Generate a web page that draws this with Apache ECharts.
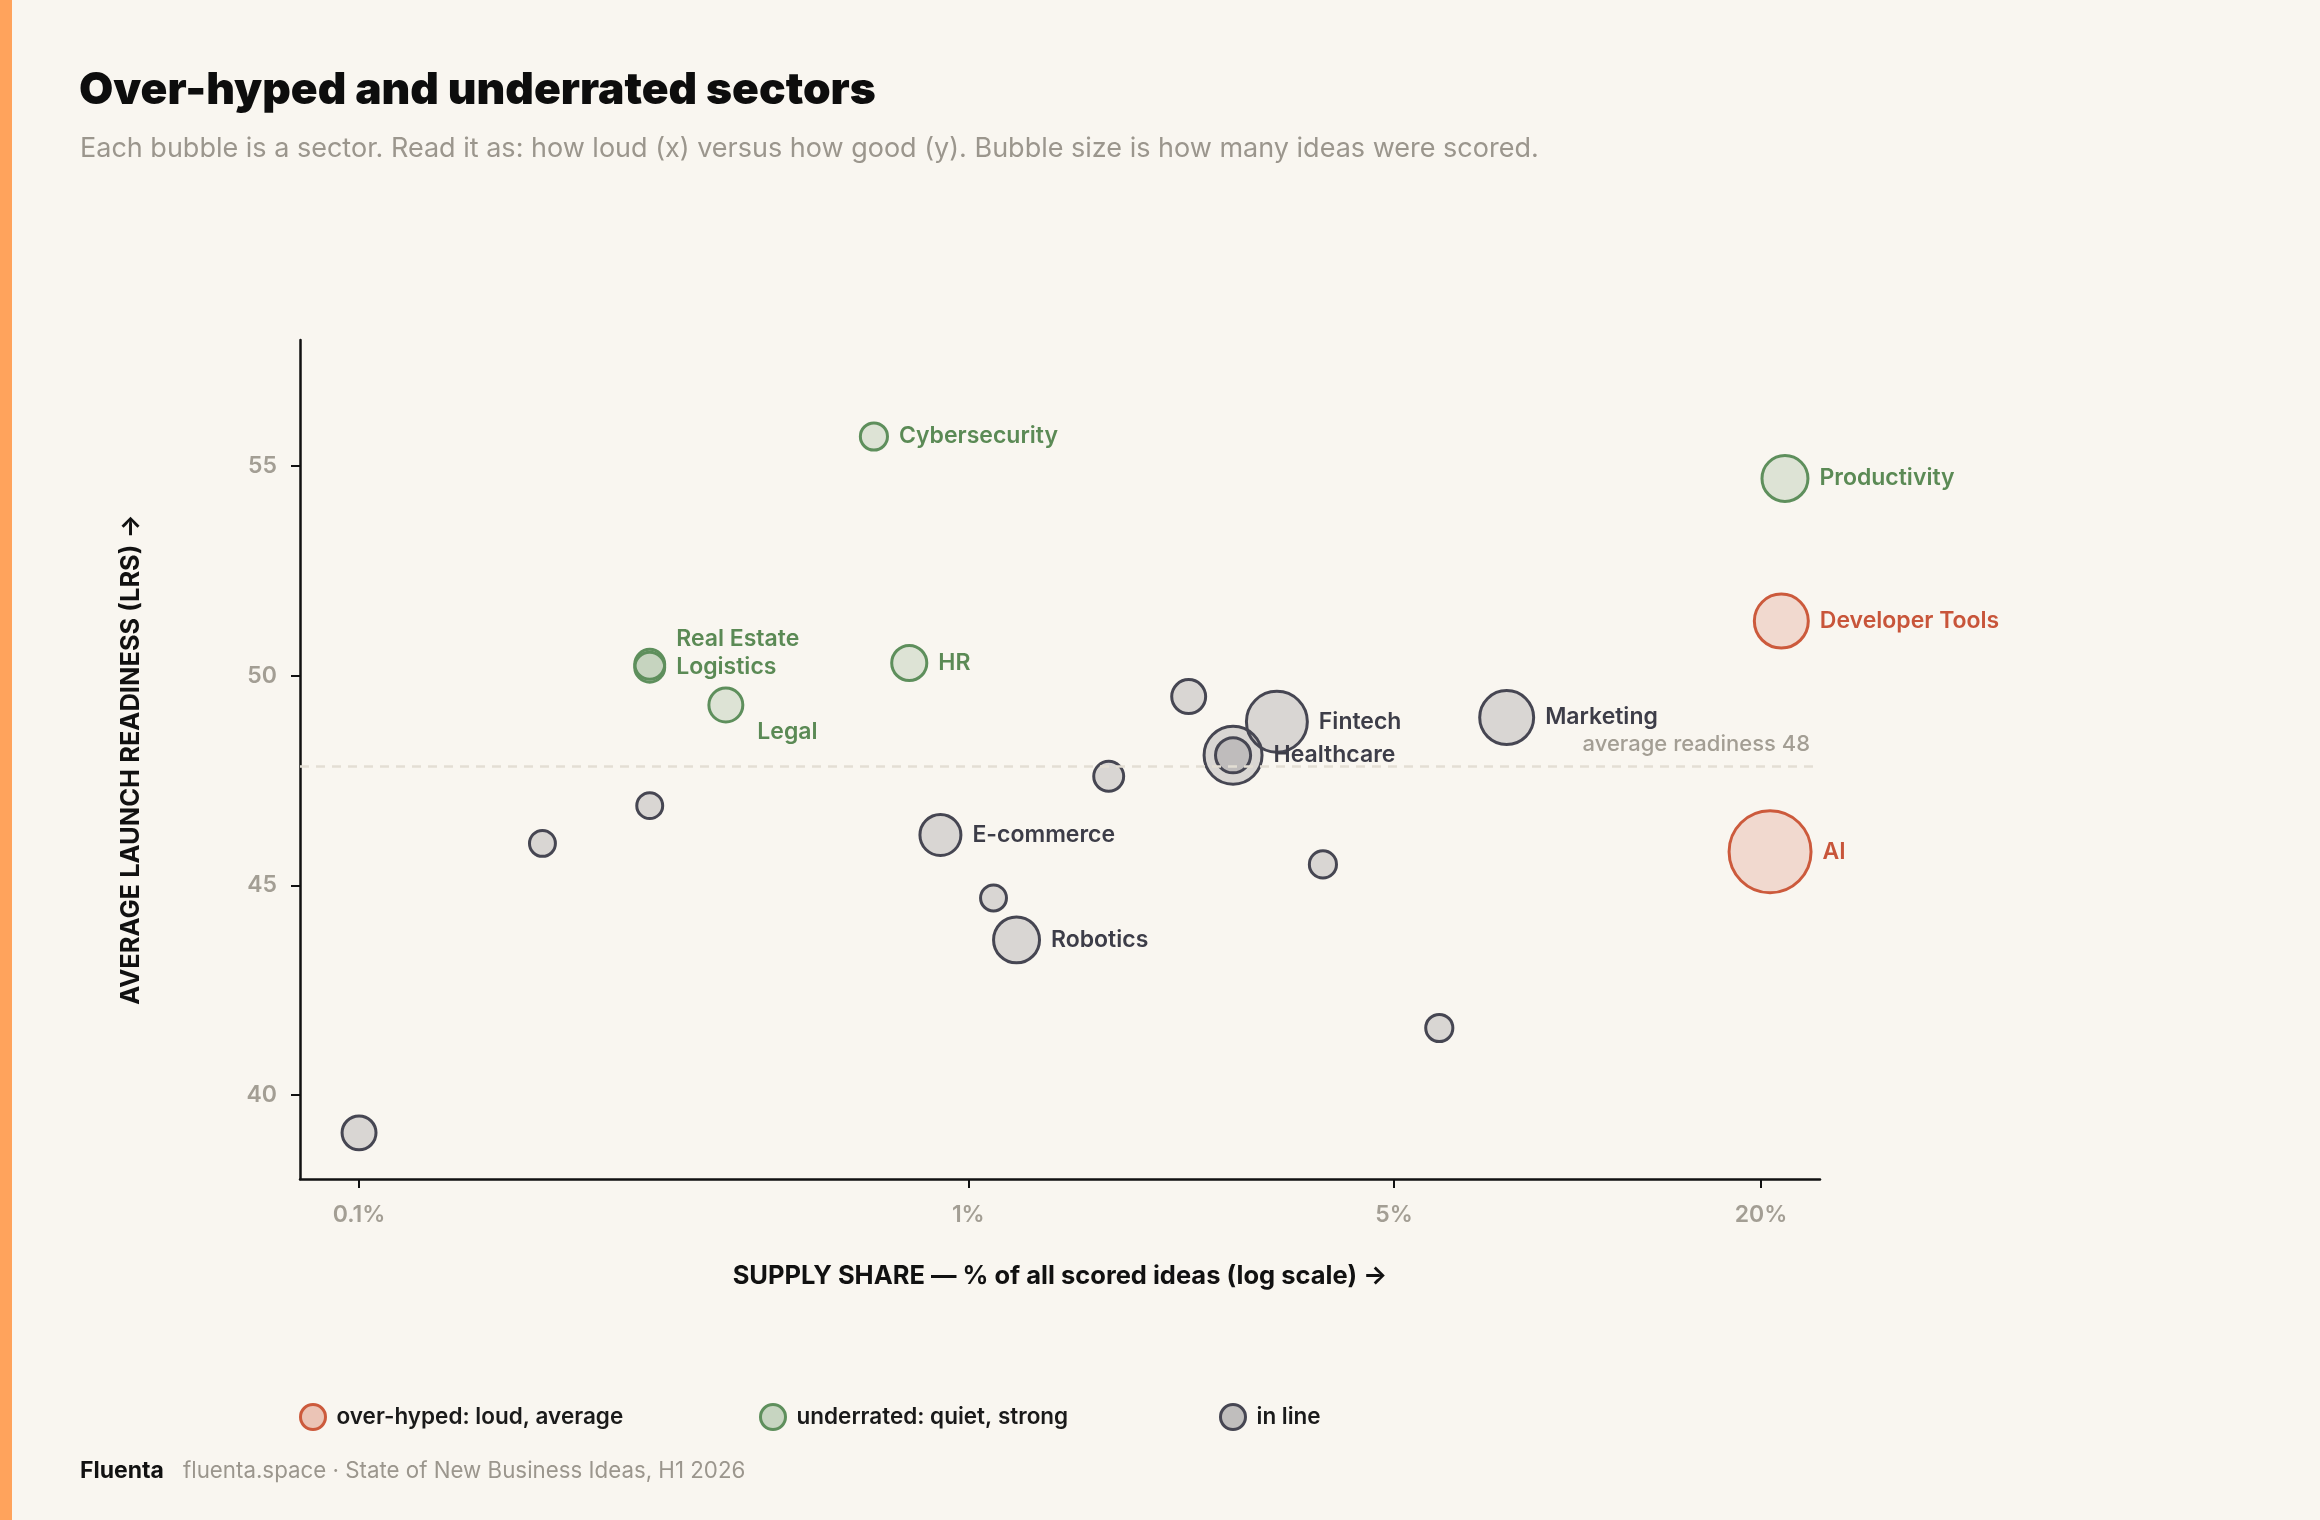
<!DOCTYPE html>
<html>
<head>
<meta charset="utf-8">
<title>Over-hyped and underrated sectors</title>
<script src="https://cdn.jsdelivr.net/npm/echarts@6/dist/echarts.min.js"></script>
<style>
  html, body { margin: 0; padding: 0; background: #f9f6f0; }
  #chart { width: 2320px; height: 1520px; }
</style>
</head>
<body>
<div id="chart"></div>
<script>
// sectors (empty name = bubble drawn without a label)
const sectorNames = ['AI', 'Developer Tools', 'Productivity', 'Marketing', 'Fintech', 'Healthcare',
  'E-commerce', 'Robotics', 'Cybersecurity', 'HR', 'Real Estate', 'Logistics', 'Legal',
  '', '', '', '', '', '', '', '', ''];
const supplyShare = [20.7, 21.6, 21.9, 7.65, 3.21, 2.72,
  0.90, 1.20, 0.70, 0.80, 0.30, 0.30, 0.40,
  2.30, 1.70, 3.82, 5.93, 1.10, 0.20, 0.30, 0.10, 2.72];   // % of all scored ideas
const readiness = [45.8, 51.3, 54.7, 49.0, 48.9, 48.1,
  46.2, 43.7, 55.7, 50.3, 50.27, 50.2, 49.3,
  49.5, 47.6, 45.5, 41.6, 44.7, 46.0, 46.9, 39.1, 48.1];    // average LRS
const ideasScored = [420, 182, 132, 182, 232, 210,
  105, 132, 46, 77, 56, 56, 72,
  72, 56, 46, 46, 42, 42, 42, 72, 77];
const verdict = ['over', 'over', 'under', 'line', 'line', 'line',
  'line', 'line', 'under', 'under', 'under', 'under', 'under',
  'line', 'line', 'line', 'line', 'line', 'line', 'line', 'line', 'line'];

const xTickValues = [0.1, 1, 5, 20];
const yTickValues = [40, 45, 50, 55];
const avgReadiness = 47.85;

const FONT = 'Inter, "Noto Sans", sans-serif';

const groups = [
  { key: 'over', name: 'over-hyped: loud, average', stroke: '#cc5a3c', rgb: '204,90,60', text: '#c8553a' },
  { key: 'under', name: 'underrated: quiet, strong', stroke: '#5e8f5c', rgb: '94,143,92', text: '#5b8a55' },
  { key: 'line', name: 'in line', stroke: '#464652', rgb: '70,70,82', text: '#3d3d48' }
];

// a couple of labels are nudged off the default "right of the bubble" spot
const labelTweaks = {
  'Real Estate': { offset: [0, -25] },
  'Legal': { offset: [3, 27] }
};

const chart = echarts.init(document.getElementById('chart'));

const series = groups.map(g => {
  const data = [];
  sectorNames.forEach((name, i) => {
    if (verdict[i] !== g.key) return;
    const item = { name, value: [Math.log10(supplyShare[i]), readiness[i], ideasScored[i]] };
    if (labelTweaks[name]) item.label = labelTweaks[name];
    data.push(item);
  });
  const s = {
    name: g.name,
    type: 'scatter',
    data,
    symbol: 'circle',
    symbolSize: v => Math.sqrt(v[2]) * 4,
    itemStyle: {
      color: `rgba(${g.rgb},0.18)`,
      borderColor: g.stroke,
      borderWidth: 3,
      opacity: 1
    },
    label: {
      show: true,
      position: 'right',
      distance: 10,
      formatter: p => p.name,
      color: g.text,
      fontSize: 23,
      fontWeight: 600,
      fontFamily: FONT
    },
    emphasis: { disabled: true }
  };
  if (g.key === 'line') {
    s.markLine = {
      silent: true,
      symbol: ['none', 'none'],
      lineStyle: { type: [9, 7], color: '#e3ded4', width: 2.5 },
      label: {
        show: true,
        position: 'insideEndTop',
        distance: 10,
        formatter: 'average readiness ' + Math.round(avgReadiness),
        color: '#a39e94',
        fontSize: 22,
        fontWeight: 500,
        fontFamily: FONT
      },
      data: [{ yAxis: avgReadiness }]
    };
  }
  return s;
});

const legends = groups.map((g, i) => ({
  left: [294, 754, 1214][i],
  top: 1398,
  icon: 'circle',
  itemWidth: 25,
  itemHeight: 25,
  selectedMode: false,
  textStyle: { fontSize: 22.5, fontWeight: 600, color: '#1a1a1a', fontFamily: FONT, padding: [0, 0, 0, 6] },
  data: [{
    name: g.name,
    itemStyle: { color: `rgba(${g.rgb},0.32)`, borderColor: g.stroke, borderWidth: 3 }
  }]
}));

const pct = v => parseFloat(Math.pow(10, v).toPrecision(3)) + '%';

const option = {
  backgroundColor: '#f9f6f0',
  animation: false,
  title: [
    {
      text: 'Over-hyped and underrated sectors',
      left: 74, top: 64,
      textStyle: { fontSize: 44.3, fontWeight: 900, color: '#0d0d0d', fontFamily: FONT }
    },
    {
      text: 'Each bubble is a sector. Read it as: how loud (x) versus how good (y). Bubble size is how many ideas were scored.',
      left: 75, top: 130,
      textStyle: { fontSize: 27, fontWeight: 400, color: '#9b968d', fontFamily: FONT }
    },
    {
      text: 'Fluenta',
      left: 75, top: 1455,
      textStyle: { fontSize: 23, fontWeight: 700, color: '#111', fontFamily: FONT }
    },
    {
      text: 'fluenta.space · State of New Business Ideas, H1 2026',
      left: 178, top: 1455,
      textStyle: { fontSize: 22.3, fontWeight: 400, color: '#9b968d', fontFamily: FONT }
    }
  ],
  graphic: [
    { type: 'rect', left: 0, top: 0, shape: { width: 12, height: 1520 }, style: { fill: '#ffa35c' } }
  ],
  legend: legends,
  grid: { left: 300, top: 340, width: 1520, height: 839 },
  xAxis: {
    type: 'value',
    min: Math.log10(0.08),
    max: Math.log10(25),
    name: 'SUPPLY SHARE — % of all scored ideas (log scale) →',
    nameLocation: 'middle',
    nameGap: 84,
    nameTextStyle: { fontSize: 25.5, fontWeight: 700, color: '#111', fontFamily: FONT },
    splitLine: { show: false },
    axisLine: { show: true, onZero: false, lineStyle: { color: '#111', width: 2.5 } },
    axisTick: {
      show: true, length: 9,
      customValues: xTickValues.map(Math.log10),
      lineStyle: { color: '#111', width: 2 }
    },
    axisLabel: {
      customValues: xTickValues.map(Math.log10),
      formatter: pct,
      margin: 25,
      color: '#a39e94', fontSize: 23, fontWeight: 600, fontFamily: FONT
    }
  },
  yAxis: {
    type: 'value',
    min: 38,
    max: 58,
    name: 'AVERAGE LAUNCH READINESS (LRS) →',
    nameLocation: 'middle',
    nameGap: 156,
    nameTextStyle: { fontSize: 25.5, fontWeight: 700, color: '#111', fontFamily: FONT },
    splitLine: { show: false },
    axisLine: { show: true, onZero: false, lineStyle: { color: '#111', width: 2.5 } },
    axisTick: {
      show: true, length: 9,
      customValues: yTickValues,
      lineStyle: { color: '#111', width: 2 }
    },
    axisLabel: {
      customValues: yTickValues,
      margin: 23,
      color: '#a39e94', fontSize: 23, fontWeight: 600, fontFamily: FONT
    }
  },
  series
};

chart.setOption(option);
</script>
</body>
</html>
